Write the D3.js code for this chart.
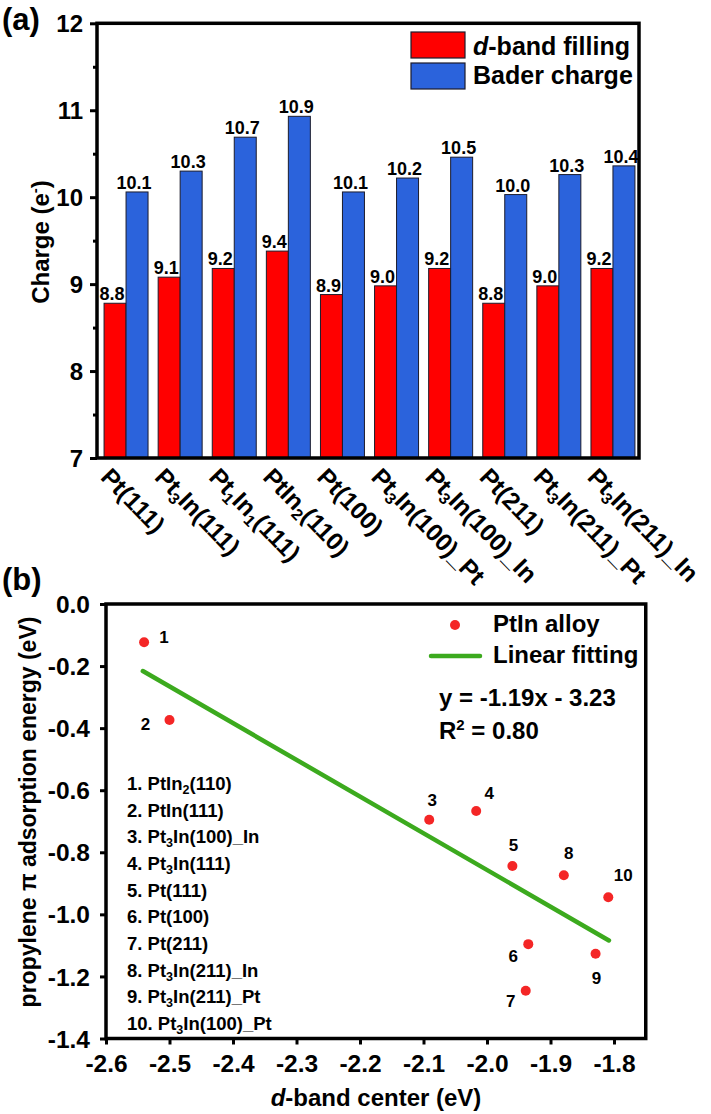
<!DOCTYPE html>
<html><head><meta charset="utf-8">
<script src="https://cdn.jsdelivr.net/npm/d3@7"></script>
<style>
body{margin:0;background:#fff}
text{font-family:"Liberation Sans",Arial,sans-serif;font-weight:bold;fill:#000}
</style>
</head><body><svg id="c" width="711" height="1114"></svg>
<script>
// ---------- Panel (a) data ----------
const categories = ["Pt(111)","Pt3In(111)","Pt1In1(111)","PtIn2(110)","Pt(100)","Pt3In(100)_Pt","Pt3In(100)_In","Pt(211)","Pt3In(211)_Pt","Pt3In(211)_In"];
const seriesNames = ["d-band filling","Bader charge"];
const dbandFilling = [8.78, 9.08, 9.18, 9.38, 8.88, 8.98, 9.18, 8.78, 8.98, 9.18];
const baderCharge = [10.06, 10.30, 10.69, 10.93, 10.06, 10.22, 10.46, 10.03, 10.26, 10.36];
const chargeTicks = [7, 8, 9, 10, 11, 12];
const chargeMinorTicks = [7.5, 8.5, 9.5, 10.5, 11.5];

// ---------- Panel (b) data ----------
const surfaceNames = ["PtIn2(110)","PtIn(111)","Pt3In(100)_In","Pt3In(111)","Pt(111)","Pt(100)","Pt(211)","Pt3In(211)_In","Pt3In(211)_Pt","Pt3In(100)_Pt"];
const dbandCenter = [-2.540, -2.500, -2.091, -2.017, -1.960, -1.935, -1.939, -1.879, -1.829, -1.809];
const adsEnergy = [-0.123, -0.374, -0.695, -0.667, -0.844, -1.096, -1.246, -0.874, -1.127, -0.945];
const fitX = [-2.542, -1.808];
const fitY = [-0.216, -1.084];
const xTicksB = [-2.6, -2.5, -2.4, -2.3, -2.2, -2.1, -2.0, -1.9, -1.8];
const yTicksB = [0, -0.2, -0.4, -0.6, -0.8, -1.0, -1.2, -1.4];
// label placement (layout) for the point numbers
const pointLabelOffsets = [[20,-5],[-24,4],[3,-20],[13,-18],[1,-21],[-15,12],[-15,10],[5,-22],[1,24],[15,-22]];

const RED = "#ff0000", BLUE = "#2b63dc", DOT = "#f42626", GREEN = "#3caa1e";
const svg = d3.select("#c");

function rich(sel, str, subSize, subShift) {
  const segs = []; let buf = "";
  for (let i = 0; i < str.length; i++) {
    const ch = str[i];
    if (/\d/.test(ch) && i > 0 && /[A-Za-z]/.test(str[i-1])) {
      if (buf) segs.push({t: buf, sub: false});
      buf = ""; segs.push({t: ch, sub: true});
    } else buf += ch;
  }
  if (buf) segs.push({t: buf, sub: false});
  let shifted = false;
  segs.forEach(s => {
    const ts = sel.append("tspan").text(s.t);
    if (s.sub) { ts.attr("font-size", subSize).attr("dy", subShift); shifted = true; }
    else if (shifted) { ts.attr("dy", -subShift); shifted = false; }
  });
}

// ================= Panel (a) =================
const xA = d3.scaleBand().domain(categories).range([99, 640]).padding(0);
const xSub = d3.scaleBand().domain(seriesNames).range([0, xA.bandwidth()]).paddingInner(0).paddingOuter(0.23);
const yA = d3.scaleLinear().domain([7, 12]).range([458, 23.3]);
const series = [dbandFilling, baderCharge];
const colors = [RED, BLUE];

const gA = svg.append("g");
series.forEach((vals, si) => {
  gA.selectAll(null).data(vals).enter().append("rect")
    .attr("x", (d, i) => xA(categories[i]) + xSub(seriesNames[si]))
    .attr("y", d => yA(d))
    .attr("width", xSub.bandwidth())
    .attr("height", d => yA(7) - yA(d))
    .attr("fill", colors[si]).attr("stroke", "#1c1c2c").attr("stroke-width", 1);
});
series.forEach((vals, si) => {
  gA.selectAll(null).data(vals).enter().append("text")
    .attr("x", (d, i) => xA(categories[i]) + xSub(seriesNames[si]) + xSub.bandwidth() / 2 - 3)
    .attr("y", d => yA(d) - 3)
    .attr("text-anchor", "middle").attr("font-size", 18)
    .text(d => d.toFixed(1));
});

// axes (a)
const axA = gA.append("g").attr("transform", "translate(97,0)")
  .call(d3.axisLeft(yA).tickValues(chargeTicks).tickSize(7).tickPadding(7).tickFormat(d => d));
axA.select(".domain").remove();
axA.selectAll("line").attr("stroke-width", 3);
axA.selectAll("text").attr("font-size", 24).attr("dy", "0.35em");
const axAm = gA.append("g").attr("transform", "translate(97,0)")
  .call(d3.axisLeft(yA).tickValues(chargeMinorTicks).tickSize(4).tickFormat(""));
axAm.select(".domain").remove();
axAm.selectAll("line").attr("stroke-width", 3);
gA.append("rect").attr("x", 97).attr("y", yA(12)).attr("width", 542).attr("height", yA(7) - yA(12))
  .attr("fill", "none").attr("stroke", "#000").attr("stroke-width", 3.5);

// x labels (a)
categories.forEach(c => {
  const t = gA.append("text")
    .attr("transform", `translate(${xA(c) + xA.bandwidth() / 2 - 14},466) rotate(46)`)
    .attr("y", 17.5).attr("font-size", 24.5);
  rich(t, c, 16, 5);
});

// y title (a)
const ytA = gA.append("text").attr("transform", "translate(41,242) rotate(-90)")
  .attr("text-anchor", "middle").attr("dy", "0.35em").attr("font-size", 24);
ytA.append("tspan").text("Charge (e");
ytA.append("tspan").text("-").attr("font-size", 15).attr("dy", -9);
ytA.append("tspan").text(")").attr("dy", 9);

// legend (a)
seriesNames.forEach((n, i) => {
  gA.append("rect").attr("x", 411).attr("y", 32 + i * 31).attr("width", 54).attr("height", 26)
    .attr("fill", colors[i]).attr("stroke", "#1c1c2c").attr("stroke-width", 1.2);
  const t = gA.append("text").attr("x", 473).attr("y", 55 + i * 29).attr("font-size", 25);
  if (n.startsWith("d-")) { t.append("tspan").attr("font-style", "italic").text("d"); t.append("tspan").text(n.slice(1)); }
  else t.text(n);
});
svg.append("text").attr("x", 2).attr("y", 30).attr("font-size", 31).text("(a)");

// ================= Panel (b) =================
const xB = d3.scaleLinear().domain([-2.6, -1.75]).range([106, 645.75]);
const yB = d3.scaleLinear().domain([-1.4, 0]).range([1038.5, 604]);
const gB = svg.append("g");

const axBx = gB.append("g").attr("transform", `translate(0,${yB(-1.4)})`)
  .call(d3.axisBottom(xB).tickValues(xTicksB).tickSize(6).tickPadding(10).tickFormat(d => d.toFixed(1)));
axBx.select(".domain").remove();
axBx.selectAll("line").attr("stroke-width", 3);
axBx.selectAll("text").attr("font-size", 24.5);
const axBy = gB.append("g").attr("transform", `translate(${xB(-2.6)},0)`)
  .call(d3.axisLeft(yB).tickValues(yTicksB).tickSize(6).tickPadding(10).tickFormat(d => (Math.abs(d) < 1e-9 ? 0 : d).toFixed(1)));
axBy.select(".domain").remove();
axBy.selectAll("line").attr("stroke-width", 3);
axBy.selectAll("text").attr("font-size", 24.5).attr("dy", "0.35em");
gB.append("rect").attr("x", xB(-2.6)).attr("y", yB(0)).attr("width", xB(-1.75) - xB(-2.6)).attr("height", yB(-1.4) - yB(0))
  .attr("fill", "none").attr("stroke", "#000").attr("stroke-width", 3.5);

// fit line
gB.append("path")
  .attr("d", d3.line().x(d => xB(d[0])).y(d => yB(d[1]))(fitX.map((x, i) => [x, fitY[i]])))
  .attr("stroke", GREEN).attr("stroke-width", 4.5).attr("stroke-linecap", "round").attr("fill", "none");

// points
gB.selectAll(null).data(dbandCenter).enter().append("circle")
  .attr("cx", d => xB(d)).attr("cy", (d, i) => yB(adsEnergy[i])).attr("r", 5).attr("fill", DOT);
gB.selectAll(null).data(dbandCenter).enter().append("text")
  .attr("x", (d, i) => xB(d) + pointLabelOffsets[i][0])
  .attr("y", (d, i) => yB(adsEnergy[i]) + pointLabelOffsets[i][1])
  .attr("dy", "0.35em").attr("text-anchor", "middle").attr("font-size", 17)
  .text((d, i) => i + 1);

// legend (b)
gB.append("circle").attr("cx", 455).attr("cy", 625).attr("r", 5).attr("fill", DOT);
gB.append("text").attr("x", 493).attr("y", 632).attr("font-size", 24).text("PtIn alloy");
gB.append("line").attr("x1", 431).attr("x2", 480).attr("y1", 656).attr("y2", 656)
  .attr("stroke", GREEN).attr("stroke-width", 4.5).attr("stroke-linecap", "round");
gB.append("text").attr("x", 493).attr("y", 663).attr("font-size", 24).text("Linear fitting");
gB.append("text").attr("x", 439).attr("y", 706).attr("font-size", 24).text("y = -1.19x - 3.23");
const r2 = gB.append("text").attr("x", 439).attr("y", 739).attr("font-size", 24);
r2.append("tspan").text("R");
r2.append("tspan").text("2").attr("font-size", 15).attr("dy", -9);
r2.append("tspan").text(" = 0.80").attr("dy", 9);

// numbered list
surfaceNames.forEach((n, i) => {
  const t = gB.append("text").attr("x", 127).attr("y", 790 + i * 26.67).attr("font-size", 18.5);
  rich(t, (i + 1) + ". " + n, 12.5, 4);
});

// axis titles (b)
const xtB = gB.append("text").attr("x", 376).attr("y", 1106).attr("text-anchor", "middle").attr("font-size", 24);
xtB.append("tspan").attr("font-style", "italic").text("d");
xtB.append("tspan").text("-band center (eV)");
gB.append("text").attr("transform", "translate(28,812) rotate(-90)")
  .attr("text-anchor", "middle").attr("dy", "0.35em").attr("font-size", 23)
  .text("propylene \u03C0 adsorption energy (eV)");
svg.append("text").attr("x", 2).attr("y", 590).attr("font-size", 31).text("(b)");
</script>
</body></html>
